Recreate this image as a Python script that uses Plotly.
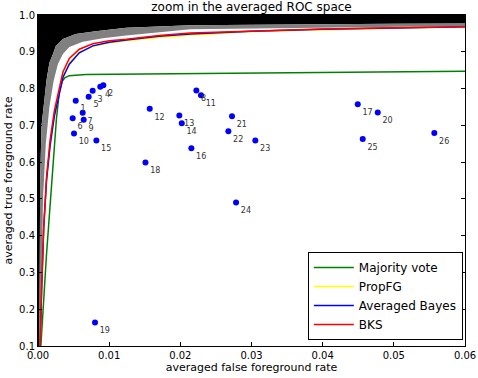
import plotly.graph_objects as go

# ---- data ----
# band around the ROC curves: upper (black/gray) and lower (gray/white) edges
band_upper_fpr = [0, 0.0002, 0.0003, 0.0005, 0.0012, 0.0016, 0.0021, 0.0025, 0.0035, 0.0053, 0.0081, 0.0124, 0.0214, 0.03, 0.04, 0.05, 0.06]
band_upper_tpr = [0, 0.1, 0.55, 0.70, 0.823, 0.87, 0.894, 0.916, 0.935, 0.948, 0.956, 0.965, 0.972, 0.974, 0.975, 0.976, 0.977]
band_lower_fpr = [0, 0.0004, 0.0007, 0.0011, 0.0016, 0.0022, 0.0028, 0.0035, 0.0044, 0.0063, 0.0091, 0.0124, 0.0214, 0.03, 0.04, 0.05, 0.06]
band_lower_tpr = [0, 0.1, 0.5, 0.65, 0.75, 0.821, 0.867, 0.894, 0.913, 0.927, 0.937, 0.944, 0.961, 0.964, 0.966, 0.968, 0.970]

# ROC curves
curve_fpr = [0, 0.0003, 0.0005, 0.0008, 0.0012, 0.0017, 0.0023, 0.0028, 0.0035, 0.0044, 0.0058, 0.0077, 0.010, 0.0124, 0.017, 0.0214, 0.03, 0.04, 0.05, 0.06]
bks_tpr = [0, 0.1, 0.25, 0.42, 0.56, 0.66, 0.74, 0.785, 0.845, 0.882, 0.907, 0.922, 0.930, 0.934, 0.944, 0.951, 0.957, 0.962, 0.965, 0.968]
bayes_tpr = [0, 0.1, 0.25, 0.42, 0.55, 0.645, 0.725, 0.77, 0.83, 0.866, 0.897, 0.916, 0.926, 0.932, 0.942, 0.948, 0.956, 0.961, 0.965, 0.968]
propfg_tpr = [0, 0.1, 0.25, 0.42, 0.555, 0.65, 0.73, 0.775, 0.835, 0.87, 0.9, 0.914, 0.924, 0.930, 0.939, 0.945, 0.955, 0.960, 0.964, 0.968]

majority_fpr = [0, 0.0004, 0.0012, 0.0019, 0.0023, 0.0026, 0.0030, 0.0034, 0.0038, 0.0044, 0.0067, 0.0124, 0.02, 0.03, 0.04, 0.05, 0.06]
majority_tpr = [0, 0.1, 0.35, 0.55, 0.64, 0.72, 0.79, 0.82, 0.83, 0.835, 0.838, 0.839, 0.841, 0.843, 0.845, 0.846, 0.847]

# individual classifiers
point_labels = [str(i) for i in range(1, 27)]
point_fpr = [0.0053, 0.00918, 0.00768, 0.00875, 0.00712, 0.00487, 0.00628, 0.02225, 0.00642, 0.00506,
             0.0229, 0.0157, 0.01986, 0.0202, 0.0082, 0.02155, 0.04493, 0.0151, 0.00801, 0.04774,
             0.02726, 0.02675, 0.03054, 0.02783, 0.04563, 0.05569]
point_tpr = [0.767, 0.809, 0.794, 0.805, 0.778, 0.719, 0.734, 0.795, 0.715, 0.678,
             0.782, 0.745, 0.727, 0.706, 0.659, 0.638, 0.757, 0.599, 0.164, 0.735,
             0.725, 0.684, 0.659, 0.490, 0.663, 0.679]

FONT = "DejaVu Sans"

fig = go.Figure()

# black region above the band
fig.add_trace(go.Scatter(
    x=band_upper_fpr + [0.06, 0], y=band_upper_tpr + [1.0, 1.0],
    mode='lines', fill='toself', fillcolor='black', line=dict(width=0),
    showlegend=False, hoverinfo='skip'))

# gray band
fig.add_trace(go.Scatter(
    x=band_upper_fpr + band_lower_fpr[::-1], y=band_upper_tpr + band_lower_tpr[::-1],
    mode='lines', fill='toself', fillcolor='#808080', line=dict(width=0),
    showlegend=False, hoverinfo='skip'))

fig.add_trace(go.Scatter(x=majority_fpr, y=majority_tpr, mode='lines',
                         line=dict(color='#008000', width=1.5), name='Majority vote'))
fig.add_trace(go.Scatter(x=curve_fpr, y=propfg_tpr, mode='lines',
                         line=dict(color='#ffff00', width=1.5), name='PropFG'))
fig.add_trace(go.Scatter(x=curve_fpr, y=bayes_tpr, mode='lines',
                         line=dict(color='#0000ff', width=1.5), name='Averaged Bayes'))
fig.add_trace(go.Scatter(x=curve_fpr, y=bks_tpr, mode='lines',
                         line=dict(color='#ff0000', width=1.5), name='BKS'))

fig.add_trace(go.Scatter(
    x=point_fpr, y=point_tpr, mode='markers+text', text=point_labels,
    textposition='bottom right', textfont=dict(size=8, color='#333333', family=FONT),
    marker=dict(size=6, color='#0000ff'), showlegend=False))

axis_common = dict(
    showline=True, linecolor='black', linewidth=1, mirror='allticks',
    ticks='inside', ticklen=4, tickcolor='black', showgrid=False, zeroline=False,
    automargin=False,
    tickfont=dict(size=10, color='black', family=FONT),
)

fig.update_layout(
    width=478, height=378,
    margin=dict(l=38, r=13, t=15, b=32),
    paper_bgcolor='white', plot_bgcolor='white',
    font=dict(family=FONT, color='black'),
    title=dict(text='zoom in the averaged ROC space', x=0.5, xref='paper', xanchor='center',
               y=1 - 7 / 378, yref='container', yanchor='middle', automargin=False,
               font=dict(size=12, family=FONT, color='black')),
    xaxis=dict(range=[0, 0.06], tickvals=[0, 0.01, 0.02, 0.03, 0.04, 0.05, 0.06],
               tickformat='.2f',
               title=dict(text='averaged false foreground rate', standoff=3,
                          font=dict(size=11, family=FONT)),
               **axis_common),
    yaxis=dict(range=[0.1, 1.0], tickvals=[0.1, 0.2, 0.3, 0.4, 0.5, 0.6, 0.7, 0.8, 0.9, 1.0],
               tickformat='.1f',
               title=dict(text='averaged true foreground rate', standoff=4,
                          font=dict(size=11, family=FONT)),
               **axis_common),
    legend=dict(x=0.995, y=0.018, xanchor='right', yanchor='bottom',
                bgcolor='white', bordercolor='black', borderwidth=1,
                font=dict(size=12, family=FONT, color='black'),
                tracegroupgap=0, itemwidth=40),
    showlegend=True,
)

# page body has a default 8px margin; drop it so the figure fills the window
fig.write_html("out.html", config={'displayModeBar': False},
               post_script="document.body.style.margin='0';")
